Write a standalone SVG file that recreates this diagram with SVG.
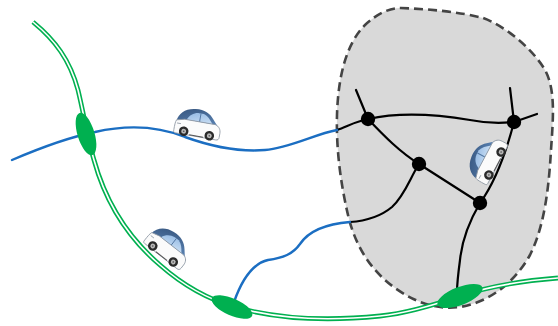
<svg xmlns="http://www.w3.org/2000/svg" xmlns:xlink="http://www.w3.org/1999/xlink" width="558" height="326" viewBox="0 0 558 326">
  <style>
    .zone { fill: #d9d9d9; stroke: #444; stroke-width: 2.6; stroke-dasharray: 9 5; }
    .street { fill: none; stroke: #000; stroke-width: 2.2; stroke-linecap: round; }
    .route { fill: none; stroke: #1b6ec2; stroke-width: 2.4; stroke-linecap: round; }
    .rail-outer { fill: none; stroke: #00b050; stroke-width: 4.8; }
    .rail-inner { fill: none; stroke: #fff; stroke-width: 1.6; }
    .hub { fill: #00b050; }
    .junction { fill: #000; }
    .car-body { fill: #fbfbfb; stroke: #8c96a2; stroke-width: 0.8; }
    .car-roof { fill: url(#roofGrad); }
    .car-glass { fill: url(#glassGrad); }
    .tyre { fill: #2a2a2a; }
    .rim { fill: #b8b8b8; }
  </style>
  <defs>
    <linearGradient id="roofGrad" x1="0" y1="0" x2="1" y2="1">
      <stop offset="0" stop-color="#34527a"/>
      <stop offset="1" stop-color="#5f89bb"/>
    </linearGradient>
    <linearGradient id="glassGrad" x1="0" y1="0" x2="1" y2="1">
      <stop offset="0" stop-color="#8fb6e2"/>
      <stop offset="1" stop-color="#c9def3"/>
    </linearGradient>
    <!-- small hatchback, facing right, wheel centres on y=0 -->
    <g id="car">
      <path class="car-roof" d="M-22,-9 C-21,-17 -15,-23 -5,-24 C4,-25 10,-22 14,-17 L20,-10 L-22,-8 Z"/>
      <path class="car-glass" d="M-12,-12 C-10,-17 -6,-20 -1,-20.5 L4,-20.5 C8,-19.5 11,-16 14,-12 Z"/>
      <line x1="1" y1="-20.5" x2="1" y2="-12" stroke="#4f74a0" stroke-width="0.9"/>
      <path class="car-body" d="M-23,0 C-23,-4 -23,-8 -22,-10 L-14,-12 L17,-12 C21,-11 23,-8 23,-4 L23,0 C23,2 22,3 20,3 L-21,3 C-23,3 -23,2 -23,0 Z"/>
      <path d="M-21,-7 L-17,-7" stroke="#8c96a2" stroke-width="0.8"/>
      <path d="M-7,2.6 L7,2.6" stroke="#555" stroke-width="1"/>
      <circle class="tyre" cx="-13" cy="0" r="4.8"/>
      <circle class="rim" cx="-13" cy="0" r="2.4"/>
      <circle cx="-13" cy="0" r="0.8" fill="#555"/>
      <circle class="tyre" cx="13" cy="0" r="4.8"/>
      <circle class="rim" cx="13" cy="0" r="2.4"/>
      <circle cx="13" cy="0" r="0.8" fill="#555"/>
    </g>
  </defs>

  <!-- service area -->
  <path id="area" class="zone" d="M400,8 C430,9 460,12 483,18 C505,26 532,48 545,70 C556,90 553,120 551,150 C549,185 545,225 530,255 C515,282 490,302 460,307 C435,310 415,302 395,288 C370,270 355,245 348,215 C341,185 336,150 337,115 C338,80 345,45 365,25 C378,13 390,8 400,8 Z"/>

  <g id="connectors">
    <!-- local street network -->
    <path class="street" d="M356,90 L368,119"/>
    <path class="street" d="M337,130 C348,126 357,121 368,119"/>
    <path class="street" d="M368,119 C400,112 440,115 470,120 C490,124 505,123 514,122"/>
    <path class="street" d="M514,122 L510,88"/>
    <path class="street" d="M514,122 L537,114"/>
    <path class="street" d="M514,122 C508,145 498,178 480,203"/>
    <path class="street" d="M368,119 C385,137 400,152 419,164"/>
    <path class="street" d="M419,164 L480,203"/>
    <path class="street" d="M419,164 C410,178 405,195 392,207 C380,217 365,221 350,222"/>
    <path class="street" d="M480,203 C470,220 462,240 460,260 C458,275 457,285 457,292"/>

    <!-- rail line -->
    <path class="rail-outer" d="M33,22 C55,40 70,60 78,90 C84,115 88,140 94,160 C105,200 125,235 160,265 C185,287 210,300 235,307 C270,317 320,322 380,316 C410,313 440,303 460,296 C490,286 520,281 558,278"/>
    <path class="rail-inner" d="M33,22 C55,40 70,60 78,90 C84,115 88,140 94,160 C105,200 125,235 160,265 C185,287 210,300 235,307 C270,317 320,322 380,316 C410,313 440,303 460,296 C490,286 520,281 558,278"/>

    <!-- feeder routes -->
    <path class="route" d="M12,160 C40,148 70,137 95,132 C130,124 160,127 185,137 C210,146 240,152 265,150 C290,148 315,134 337,130"/>
    <path class="route" d="M350,222 C325,224 308,232 300,244 C293,254 283,258 268,260 C250,264 240,285 234,302"/>
  </g>

  <!-- stations -->
  <g id="station-1"><ellipse class="hub" cx="86" cy="134" rx="8.5" ry="22" transform="rotate(-17 86 134)"/></g>
  <g id="station-2"><ellipse class="hub" cx="232" cy="307" rx="22" ry="8.5" transform="rotate(24 232 307)"/></g>
  <g id="station-3"><ellipse class="hub" cx="460" cy="296" rx="24" ry="9" transform="rotate(-21 460 296)"/></g>

  <!-- junctions -->
  <g id="junction-1"><circle class="junction" cx="368" cy="119" r="7.2"/></g>
  <g id="junction-2"><circle class="junction" cx="514" cy="122" r="7.2"/></g>
  <g id="junction-3"><circle class="junction" cx="419" cy="164" r="7.2"/></g>
  <g id="junction-4"><circle class="junction" cx="480" cy="203" r="7.2"/></g>

  <!-- vehicles -->
  <g id="car-1"><use xlink:href="#car" href="#car" transform="translate(196.5 133.5) rotate(10)"/></g>
  <g id="car-2"><use xlink:href="#car" href="#car" transform="translate(163 254) rotate(38)"/></g>
  <g id="car-3"><use xlink:href="#car" href="#car" transform="translate(495 163.5) rotate(-62)"/></g>
</svg>
